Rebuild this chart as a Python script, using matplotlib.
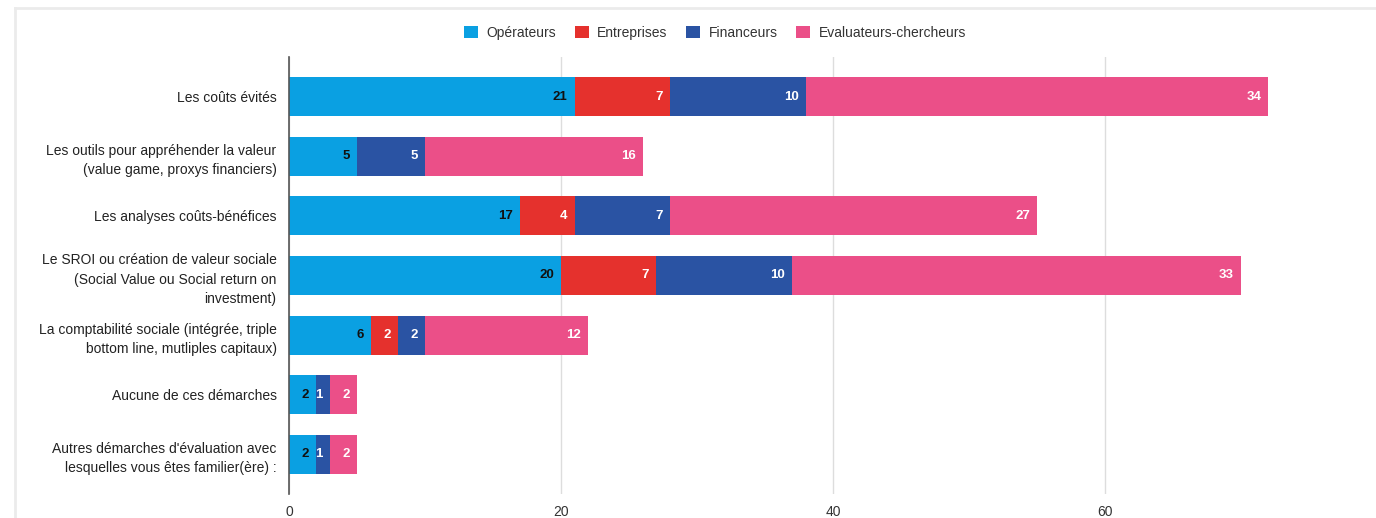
import matplotlib
matplotlib.use("Agg")
import matplotlib.pyplot as plt
from matplotlib.lines import Line2D
from matplotlib.patches import Patch

plt.rcParams['font.family'] = ['Liberation Sans', 'DejaVu Sans']

categories = [
    "Les coûts évités",
    "Les outils pour appréhender la valeur\n(value game, proxys financiers)",
    "Les analyses coûts-bénéfices",
    "Le SROI ou création de valeur sociale\n(Social Value ou Social return on\ninvestment)",
    "La comptabilité sociale (intégrée, triple\nbottom line, mutliples capitaux)",
    "Aucune de ces démarches",
    "Autres démarches d'évaluation avec\nlesquelles vous êtes familier(ère) :",
]
series_names = ["Opérateurs", "Entreprises", "Financeurs", "Evaluateurs-chercheurs"]
operateurs = [21, 5, 17, 20, 6, 2, 2]
entreprises = [7, 0, 4, 7, 2, 0, 0]
financeurs = [10, 5, 7, 10, 2, 1, 1]
evaluateurs = [34, 16, 27, 33, 12, 2, 2]
x_ticks = [0, 20, 40, 60]

colors = ["#0AA0E2", "#E5312D", "#2A53A3", "#EB4F88"]
label_colors = ["#111111", "white", "white", "white"]

fig = plt.figure(figsize=(13.76, 5.18), dpi=100)
ax = fig.add_axes([289/1376, 24/518, 1 - 289/1376, (494-57)/518])

series = [operateurs, entreprises, financeurs, evaluateurs]
y = list(range(len(categories)))
left = [0]*len(categories)
for vals, col, lc, name in zip(series, colors, label_colors, series_names):
    ax.barh(y, vals, left=left, height=0.655, color=col, label=name, zorder=3)
    for i, v in enumerate(vals):
        if v > 0:
            ax.annotate(str(v), xy=(left[i] + v, i), xytext=(-5, 0),
                        textcoords="offset points", ha="right", va="center",
                        color=lc, fontsize=9.5, fontweight="bold", zorder=4)
    left = [l + v for l, v in zip(left, vals)]

ax.set_xlim(0, 79.93)
ax.set_ylim(6.67, -0.67)
ax.set_yticks(y)
ax.set_yticklabels(categories, fontsize=10, color="#222222", linespacing=1.5)
ax.set_xticks(x_ticks)
ax.set_xticklabels([str(t) for t in x_ticks], fontsize=10, color="#333333")
ax.tick_params(axis="both", length=0)
ax.tick_params(axis="y", pad=9)
ax.tick_params(axis="x", pad=8)
ax.grid(axis="x", color="#dddddd", linewidth=1, zorder=0)
for s in ["top", "right", "bottom"]:
    ax.spines[s].set_visible(False)
ax.spines["left"].set_color("#555555")
ax.spines["left"].set_linewidth(1.2)
ax.spines["left"].set_zorder(5)

handles = [Patch(facecolor=c, edgecolor="none") for c in colors]
fig.legend(handles, series_names, loc="center", bbox_to_anchor=(715/1376, 1 - 33/518),
           ncol=4, frameon=False, fontsize=10, handlelength=1.0, handleheight=1.0,
           handletextpad=0.6, columnspacing=1.35, labelcolor="#333333")

fx = 15/1376
fy = 1 - 8/518
fig.add_artist(Line2D([fx, fx], [0, fy], transform=fig.transFigure, color="#ebebeb", lw=2))
fig.add_artist(Line2D([fx, 1], [fy, fy], transform=fig.transFigure, color="#ebebeb", lw=2))

fig.savefig("out.png", dpi=100, facecolor="white")
